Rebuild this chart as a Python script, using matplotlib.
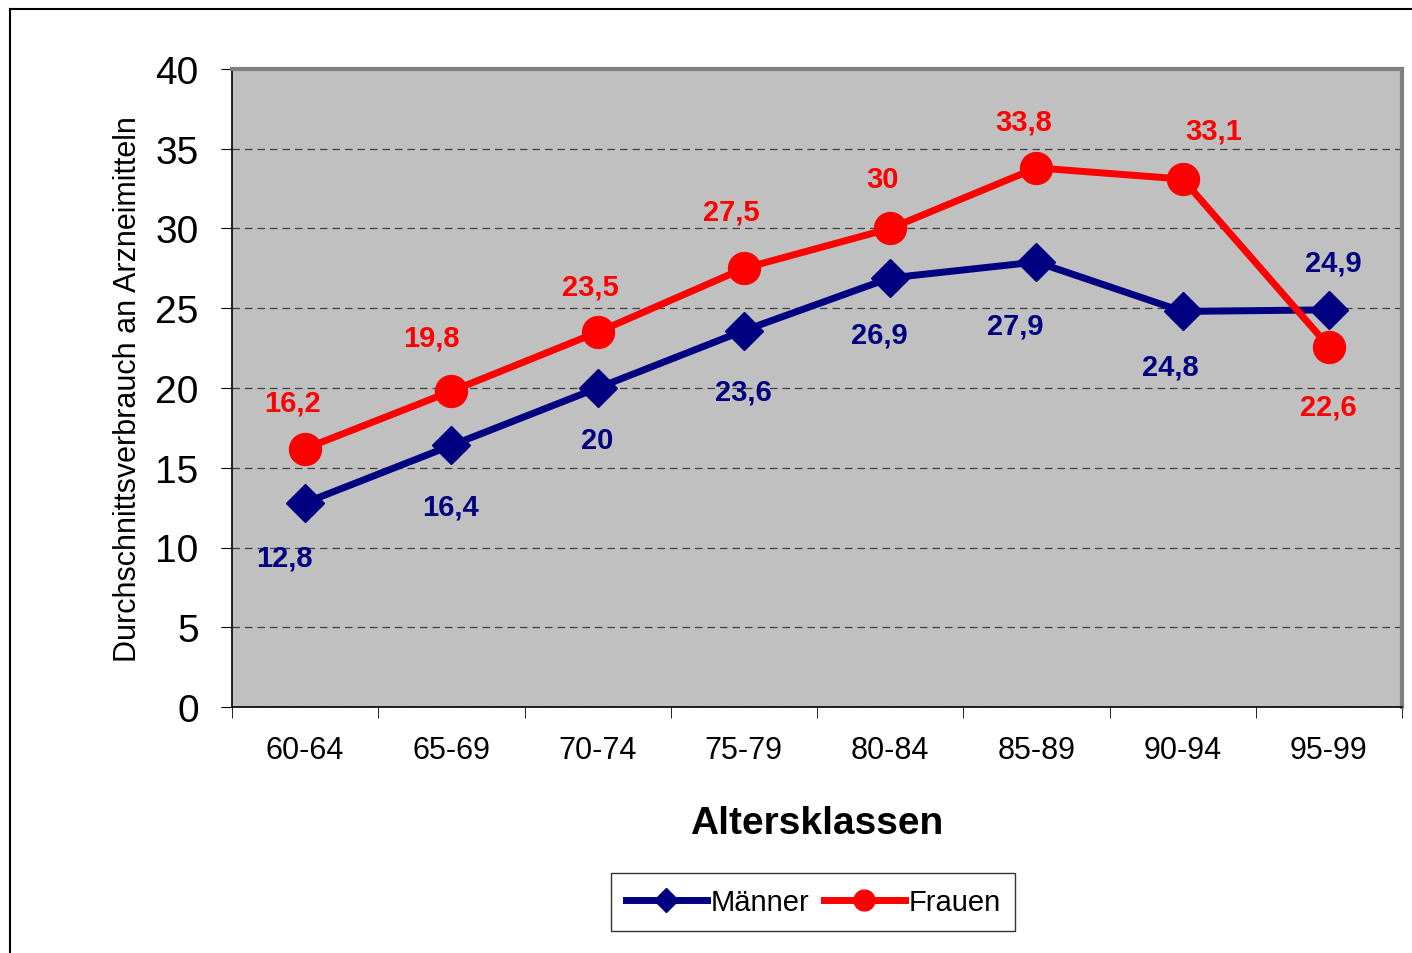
import matplotlib
matplotlib.use("Agg")
import matplotlib.pyplot as plt
from matplotlib.lines import Line2D

plt.rcParams['font.family'] = ['Liberation Sans', 'DejaVu Sans']

altersklassen = ["60-64", "65-69", "70-74", "75-79", "80-84", "85-89", "90-94", "95-99"]
maenner = [12.8, 16.4, 20, 23.6, 26.9, 27.9, 24.8, 24.9]
frauen = [16.2, 19.8, 23.5, 27.5, 30, 33.8, 33.1, 22.6]

# Versatz der Beschriftungen in Pixeln (dx, dy)
versatz_m = [(-21, -55), (-1, -61), (0, -52), (-1, -61), (-11, -57), (-21, -64), (-12, -55), (4, 47)]
versatz_f = [(-13, 46), (-20, 54), (-7, 46), (-13, 57), (-8, 49), (-13, 46), (31, 49), (-1, -60)]

blau = "#000080"
rot = "#FF0000"

fig = plt.figure(figsize=(14.12, 9.54), dpi=100)
ax = fig.add_axes([232 / 1412, 1 - 708 / 954, 1170 / 1412, 638 / 954])
ax.set_facecolor("#C0C0C0")

x = range(len(altersklassen))
ax.plot(x, maenner, color=blau, lw=5, marker="D", markersize=19, zorder=3)
ax.plot(x, frauen, color=rot, lw=5, marker="o", markersize=23, zorder=4)


def beschriften(werte, versatz, farbe):
    for i, (w, (dx, dy)) in enumerate(zip(werte, versatz)):
        txt = f"{w:g}".replace(".", ",")
        ax.annotate(txt, (i, w), xytext=(dx, dy), textcoords="offset pixels",
                    ha="center", va="center", color=farbe, fontsize=21,
                    fontweight="bold", zorder=5)


beschriften(maenner, versatz_m, blau)
beschriften(frauen, versatz_f, rot)

ax.set_xlim(-0.5, len(altersklassen) - 0.5)
ax.set_ylim(0, 40)
ax.set_yticks(range(0, 41, 5))
ax.tick_params(axis="y", labelsize=28, length=8, direction="out", pad=16)
ax.set_xticks(list(x))
ax.set_xticklabels(altersklassen)
ax.tick_params(axis="x", which="major", length=0, labelsize=22, pad=20)
ax.set_xticks([i - 0.5 for i in range(len(altersklassen) + 1)], minor=True)
ax.tick_params(axis="x", which="minor", length=8, direction="out")

ax.grid(axis="y", linestyle=(0, (6, 4)), color="#404040", lw=0.9)
ax.set_axisbelow(True)

for s in ["top", "right"]:
    ax.spines[s].set_color("#808080")
    ax.spines[s].set_linewidth(3)
for s in ["left", "bottom"]:
    ax.spines[s].set_color("black")
    ax.spines[s].set_linewidth(1.2)

ax.set_ylabel("Durchschnittsverbrauch an Arzneimitteln", fontsize=22, labelpad=9)
ax.set_xlabel("Altersklassen", fontsize=28, fontweight="bold", labelpad=29)

griffe = [Line2D([], [], color=blau, lw=5, marker="D", markersize=12),
          Line2D([], [], color=rot, lw=5, marker="o", markersize=15)]
leg = fig.legend(griffe, ["Männer", "Frauen"], loc="center",
                 bbox_to_anchor=(813 / 1412, 1 - 903 / 954), ncol=2,
                 fontsize=21, frameon=True, fancybox=False, edgecolor="black",
                 handlelength=2.8, handletextpad=0.1, columnspacing=0.5,
                 borderpad=0.5)
leg.get_frame().set_linewidth(1)

# Rahmen oben und links
fig.add_artist(Line2D([9.5 / 1412, 1], [1 - 9.5 / 954, 1 - 9.5 / 954], color="black", lw=1.5))
fig.add_artist(Line2D([9.5 / 1412, 9.5 / 1412], [0, 1 - 9.5 / 954], color="black", lw=1.5))

fig.savefig("out.png", dpi=100)
